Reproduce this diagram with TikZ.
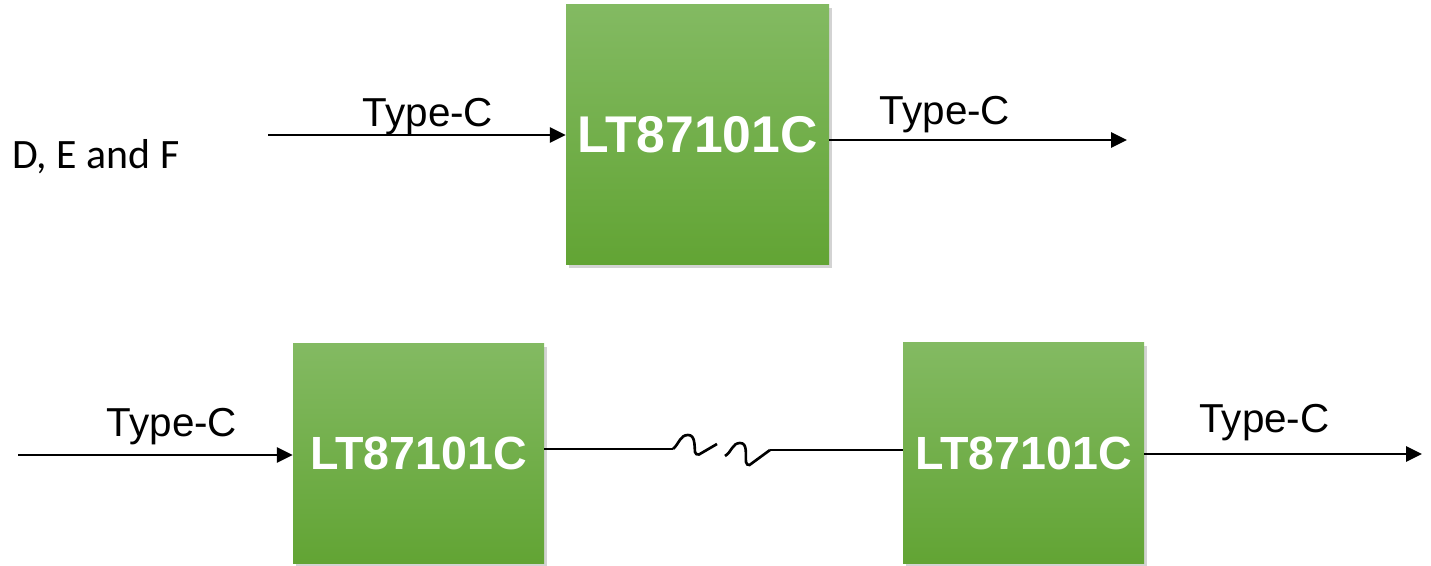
\documentclass[tikz,border=0pt]{standalone}
\usepackage{fontspec}
\setmainfont{Liberation Sans}
\newfontfamily\calfont{Carlito}
\usepackage{tikz}
\usetikzlibrary{
  arrows.meta,
  calc,
  positioning,
  shadows
}
\tikzset{>={Triangle[length=9pt,width=8.5pt]}}
\definecolor{chiptop}{RGB}{131,186,98}
\definecolor{chipbot}{RGB}{98,164,52}
\tikzset{
  chip/.style={rectangle,inner sep=0pt,top color=chiptop,bottom color=chipbot,
    draw=none,text=white,font=\bfseries,
    drop shadow={shadow xshift=1.6pt,shadow yshift=-1.6pt,opacity=0.35}},
  lbl/.style={inner sep=0pt,anchor=base,font=\fontsize{23}{27}\selectfont},
  wire/.style={line width=1.5pt}
}

\begin{document}
\begin{tikzpicture}[thin]
		%1431 x 566
			\useasboundingbox (0,0) rectangle (28.62,-11.32);
			\node[inner sep=0pt,anchor=base west,font=\calfont\fontsize{23.8}{28}\selectfont] (group) at (0.24,-3.38) {D, E and F};
			\node[chip,minimum width=5.26cm,minimum height=5.2cm,font=\bfseries\fontsize{29.4}{34}\selectfont] (lt) at (13.95,-2.7) {LT87101C};
			\node[chip,minimum width=5.02cm,minimum height=4.38cm,font=\bfseries\fontsize{26.5}{31}\selectfont] (ltA) at (8.37,-9.07) {LT87101C};
			\node[chip,minimum width=4.82cm,minimum height=4.4cm,font=\bfseries\fontsize{26.5}{31}\selectfont] (ltB) at (20.47,-9.06) {LT87101C};
			\coordinate (in1) at (5.36,-2.70);
			\coordinate (out1) at (22.54,-2.80);
			\coordinate (in2) at (0.36,-9.10);
			\coordinate (out2) at (28.44,-9.08);
			\coordinate (brkA) at (13.46,-8.98);
			\coordinate (brkB) at (15.40,-9.00);
			\draw[wire,->] (in1) -- (lt.west |- in1);
			\draw[wire,->] (lt.east |- out1) -- (out1);
			\draw[wire,->] (in2) -- (ltA.west |- in2);
			\draw[wire,->] (ltB.east |- out2) -- (out2);
			\draw[wire] (ltA.east |- brkA) -- (brkA);
			\draw[wire] (brkB) -- (ltB.west |- brkB);
			\draw[wire] (brkA) to[out=40,in=180] (13.76,-8.70) to[out=0,in=95] (13.90,-9.04)
				to[out=-85,in=200] (13.98,-9.09) -- (14.34,-8.88);
			\draw[wire] (14.50,-9.12) to[out=30,in=180] (14.80,-8.86) to[out=0,in=95] (14.92,-9.24)
				to[out=-85,in=200] (14.99,-9.30) -- (brkB);
			\node[lbl] (tA) at (8.56,-2.54) {Type-C};
			\node[lbl] (tB) at (18.90,-2.50) {Type-C};
			\node[lbl] (tC) at (3.44,-8.74) {Type-C};
			\node[lbl] (tD) at (25.29,-8.66) {Type-C};
		\end{tikzpicture}
\end{document}
